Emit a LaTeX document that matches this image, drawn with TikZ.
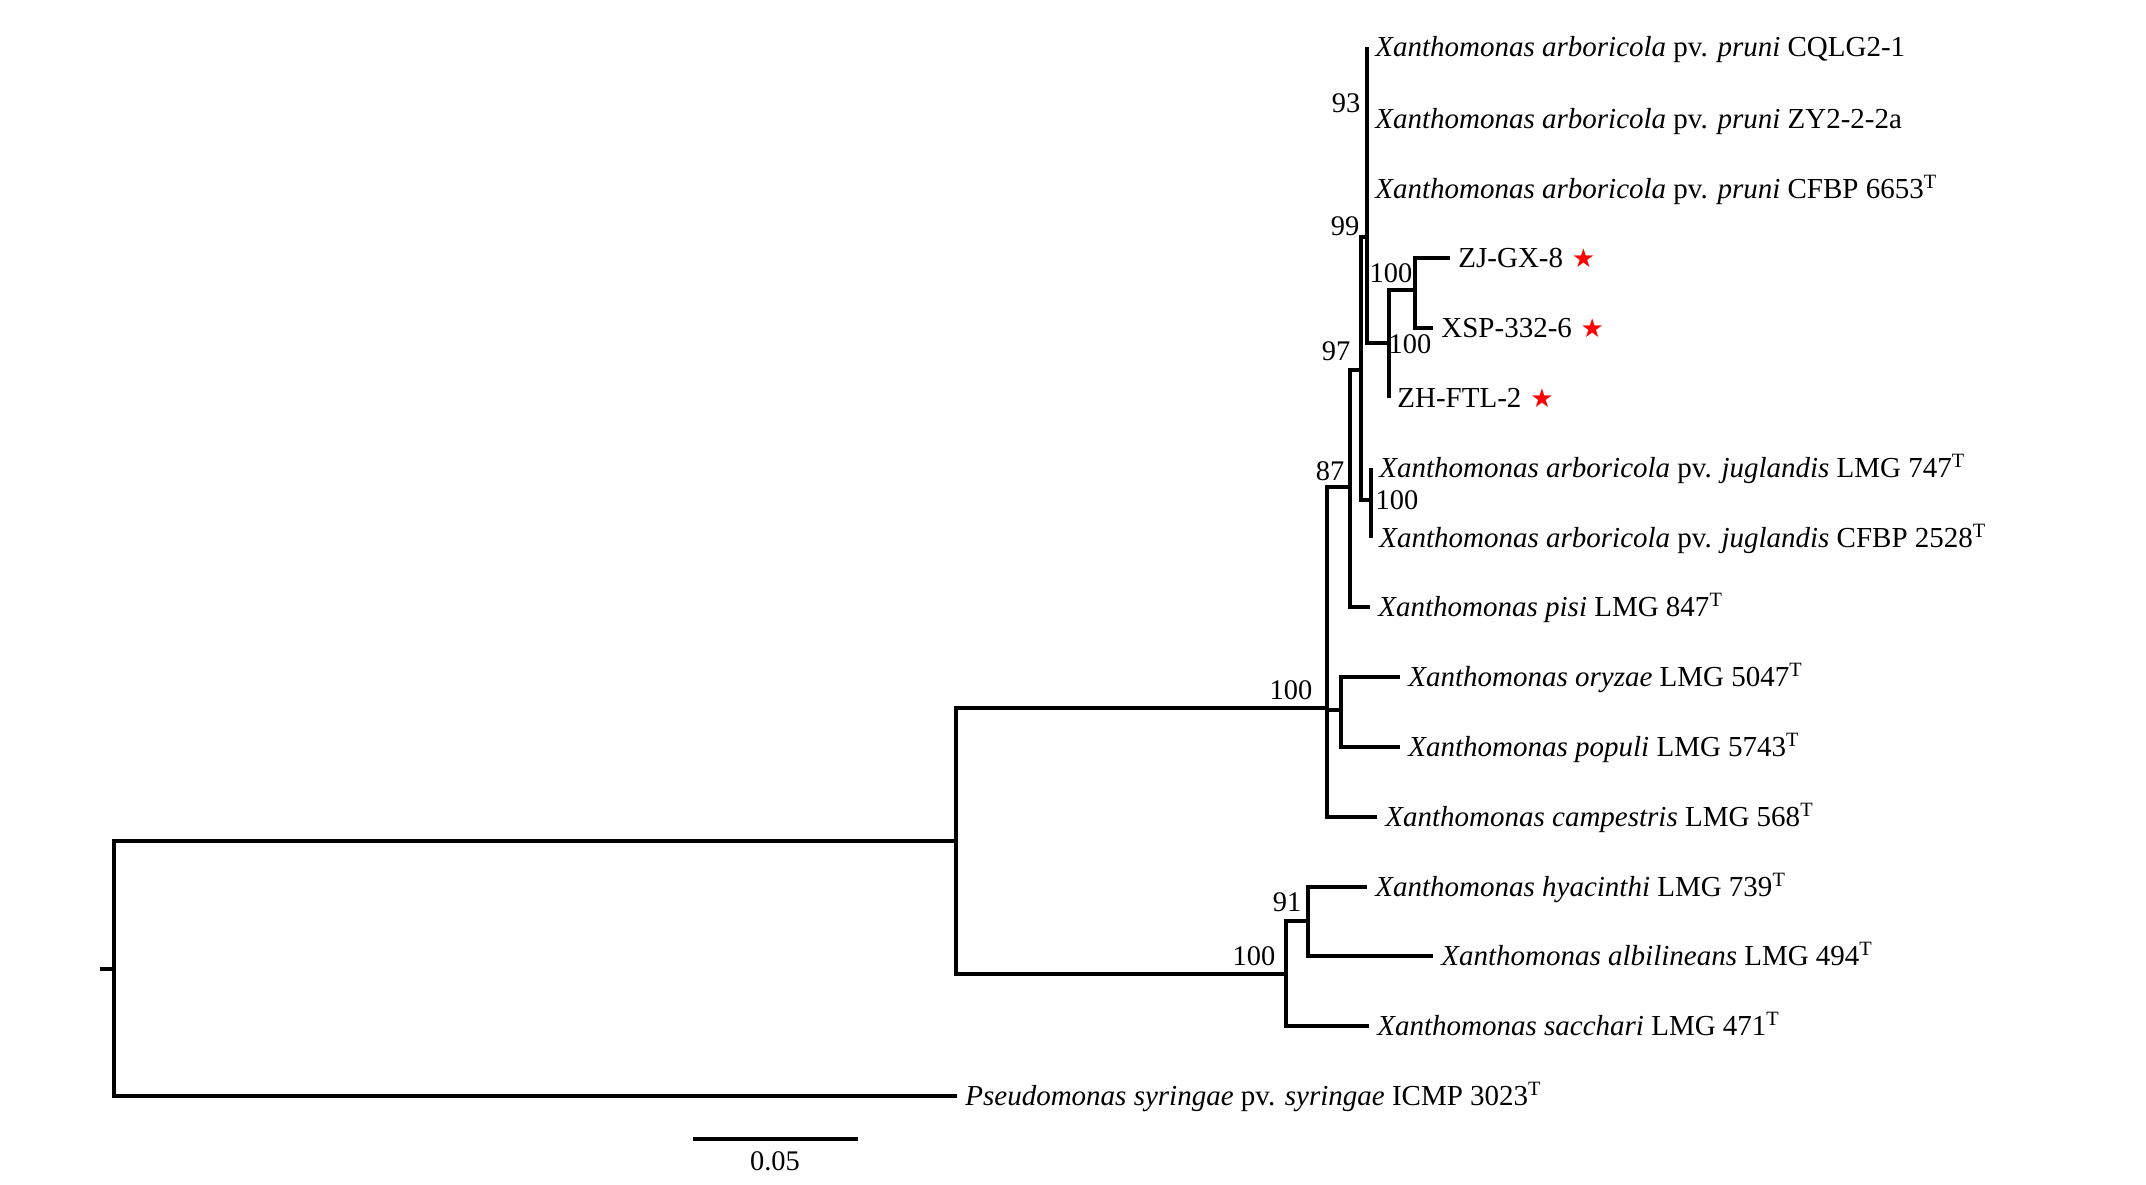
\documentclass[tikz,border=0pt]{standalone}
\usepackage{fontspec}
\setmainfont{Liberation Serif}
\newfontfamily\starfont{DejaVu Sans}
\usetikzlibrary{positioning}

\begin{document}
\begin{tikzpicture}[x=0.5pt, y=-0.5pt,
	branch/.style={line width=1.7pt},
	taxon/.style={inner sep=0pt, font=\fontsize{14.5}{17}\selectfont},
	boot/.style={inner sep=0pt, font=\fontsize{14.2}{16}\selectfont},
	redstar/.style={inner sep=0pt, text=red, font=\starfont\fontsize{13}{14}\selectfont}]
	
	\useasboundingbox (0,0) rectangle (2146,1184);
	
	% inner nodes
	\coordinate (R0) at (100,969);
	\coordinate (R) at (114,969);
	\coordinate (U) at (956,841);
	\coordinate (A) at (1327,708);
	\coordinate (B) at (1350,487);
	\coordinate (C) at (1361,370);
	\coordinate (D) at (1367,237);
	\coordinate (E) at (1367,84);
	\coordinate (F) at (1389,343);
	\coordinate (G) at (1415,290);
	\coordinate (J) at (1371,500);
	\coordinate (OP) at (1341,710);
	\coordinate (L) at (1286,974);
	\coordinate (L2) at (1308,921);
	
	% tips
	\coordinate (CQ) at (1367,47);
	\coordinate (ZY) at (1367,119);
	\coordinate (Cf) at (1367,189);
	\coordinate (ZJ) at (1450,258);
	\coordinate (XS) at (1433,328);
	\coordinate (ZH) at (1389,398);
	\coordinate (J1) at (1371,468);
	\coordinate (J2) at (1371,538);
	\coordinate (Pi) at (1370,607);
	\coordinate (Or) at (1400,677);
	\coordinate (Po) at (1400,747);
	\coordinate (Ca) at (1377,817);
	\coordinate (Hy) at (1367,887);
	\coordinate (Al) at (1433,956);
	\coordinate (Sa) at (1369,1026);
	\coordinate (P) at (957,1096);
	
	\draw[branch] (R0)--(R);
	\foreach \p/\c in {R/U, R/P, U/A, U/L, A/B, A/OP, A/Ca, B/C, B/Pi, C/D, C/J, D/E, D/Cf, D/F, E/CQ, E/ZY, F/G, F/ZH, G/ZJ, G/XS, J/J1, J/J2, OP/Or, OP/Po, L/L2, L/Sa, L2/Hy, L2/Al}
		\draw[branch] (\p) |- (\c);
	
	\node[taxon, right=4pt of CQ, anchor=base west, yshift=-4.8pt] (tCQ) {\textit{Xanthomonas arboricola} pv. \textit{pruni} CQLG2-1};
	\node[taxon, right=4pt of ZY, anchor=base west, yshift=-4.8pt] (tZY) {\textit{Xanthomonas arboricola} pv. \textit{pruni} ZY2-2-2a};
	\node[taxon, right=4pt of Cf, anchor=base west, yshift=-4.8pt] (tCf) {\textit{Xanthomonas arboricola} pv. \textit{pruni} CFBP 6653\textsuperscript{T}};
	\node[taxon, right=4pt of ZJ, anchor=base west, yshift=-4.8pt] (tZJ) {ZJ-GX-8};
	\node[taxon, right=4pt of XS, anchor=base west, yshift=-4.8pt] (tXS) {XSP-332-6};
	\node[taxon, right=4pt of ZH, anchor=base west, yshift=-4.8pt] (tZH) {ZH-FTL-2};
	\node[taxon, right=4pt of J1, anchor=base west, yshift=-4.8pt] (tJ1) {\textit{Xanthomonas arboricola} pv. \textit{juglandis} LMG 747\textsuperscript{T}};
	\node[taxon, right=4pt of J2, anchor=base west, yshift=-4.8pt] (tJ2) {\textit{Xanthomonas arboricola} pv. \textit{juglandis} CFBP 2528\textsuperscript{T}};
	\node[taxon, right=4pt of Pi, anchor=base west, yshift=-4.8pt] (tPi) {\textit{Xanthomonas pisi} LMG 847\textsuperscript{T}};
	\node[taxon, right=4pt of Or, anchor=base west, yshift=-4.8pt] (tOr) {\textit{Xanthomonas oryzae} LMG 5047\textsuperscript{T}};
	\node[taxon, right=4pt of Po, anchor=base west, yshift=-4.8pt] (tPo) {\textit{Xanthomonas populi} LMG 5743\textsuperscript{T}};
	\node[taxon, right=4pt of Ca, anchor=base west, yshift=-4.8pt] (tCa) {\textit{Xanthomonas campestris} LMG 568\textsuperscript{T}};
	\node[taxon, right=4pt of Hy, anchor=base west, yshift=-4.8pt] (tHy) {\textit{Xanthomonas hyacinthi} LMG 739\textsuperscript{T}};
	\node[taxon, right=4pt of Al, anchor=base west, yshift=-4.8pt] (tAl) {\textit{Xanthomonas albilineans} LMG 494\textsuperscript{T}};
	\node[taxon, right=4pt of Sa, anchor=base west, yshift=-4.8pt] (tSa) {\textit{Xanthomonas sacchari} LMG 471\textsuperscript{T}};
	\node[taxon, right=4pt of P, anchor=base west, yshift=-4.8pt] (tP) {\textit{Pseudomonas syringae} pv. \textit{syringae} ICMP 3023\textsuperscript{T}};
	
	% isolates of this study
	\node[redstar, right=4pt of tZJ] (sZJ) {★};
	\node[redstar, right=4pt of tXS] (sXS) {★};
	\node[redstar, right=4pt of tZH] (sZH) {★};
	
	% bootstrap values
	\node[boot] (b93) at (1346,103) {93};
	\node[boot] (b99) at (1345,226) {99};
	\node[boot] (bG) at (1391,273) {100};
	\node[boot] (bF) at (1410,344) {100};
	\node[boot] (b97) at (1336,351) {97};
	\node[boot] (b87) at (1330,471) {87};
	\node[boot] (bJ) at (1397,500) {100};
	\node[boot] (bA) at (1291,690) {100};
	\node[boot] (b91) at (1287,902) {91};
	\node[boot] (bL) at (1254,956) {100};
	
	% scale bar
	\coordinate (s1) at (693,1139);
	\coordinate (s2) at (858,1139);
	\draw[branch] (s1)--(s2);
	\node[boot] (scale) at (775,1161) {0.05};
\end{tikzpicture}
\end{document}
